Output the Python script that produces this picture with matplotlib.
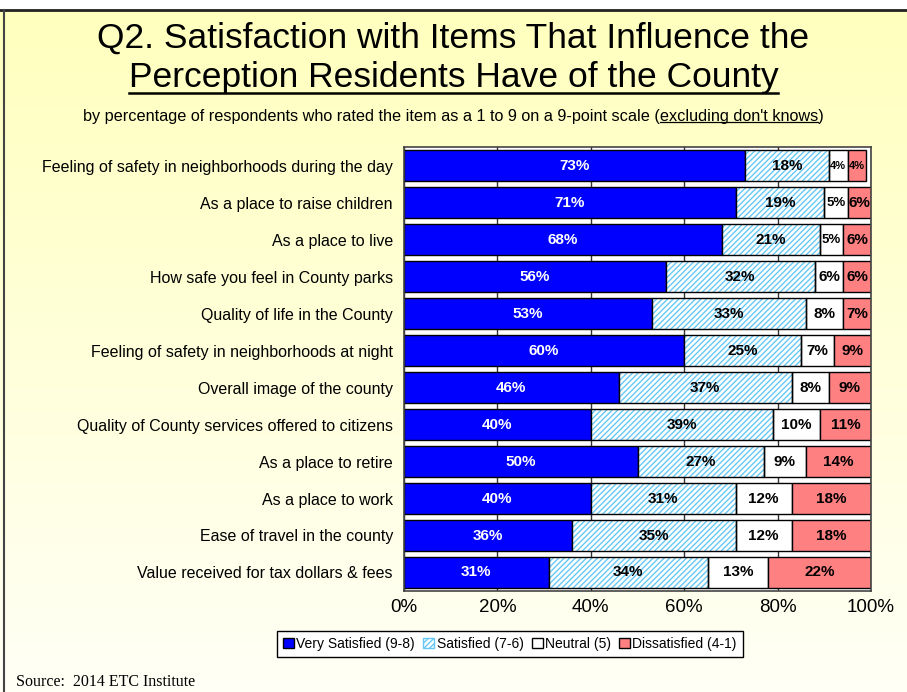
import numpy as np
import matplotlib
matplotlib.use("Agg")
import matplotlib.pyplot as plt
from matplotlib.patches import Patch
from matplotlib.lines import Line2D

# survey items, top to bottom
items = [
    "Feeling of safety in neighborhoods during the day",
    "As a place to raise children",
    "As a place to live",
    "How safe you feel in County parks",
    "Quality of life in the County",
    "Feeling of safety in neighborhoods at night",
    "Overall image of the county",
    "Quality of County services offered to citizens",
    "As a place to retire",
    "As a place to work",
    "Ease of travel in the county",
    "Value received for tax dollars & fees",
]
very_satisfied = [73, 71, 68, 56, 53, 60, 46, 40, 50, 40, 36, 31]
satisfied = [18, 19, 21, 32, 33, 25, 37, 39, 27, 31, 35, 34]
neutral = [4, 5, 5, 6, 8, 7, 8, 10, 9, 12, 12, 13]
dissatisfied = [4, 6, 6, 6, 7, 9, 9, 11, 14, 18, 18, 22]
series_names = ["Very Satisfied (9-8)", "Satisfied (7-6)", "Neutral (5)", "Dissatisfied (4-1)"]
x_ticks = [0, 20, 40, 60, 80, 100]

plt.rcParams["font.family"] = ["Liberation Sans", "DejaVu Sans"]

fig = plt.figure(figsize=(9.07, 6.92), dpi=100)

# yellow-to-white slide background
bg = fig.add_axes([0, 0, 1, 1], zorder=-10)
grad = np.linspace(0, 1, 256)[:, None]
top_c = np.array([255, 255, 190]) / 255
bot_c = np.array([255, 255, 246]) / 255
img = top_c[None, None, :] * (1 - grad[..., None]) + bot_c[None, None, :] * grad[..., None]
img = np.repeat(img, 2, axis=1)
bg.imshow(img, aspect="auto", extent=[0, 1, 0, 1 - 10 / 692], origin="upper")
bg.set_xlim(0, 1)
bg.set_ylim(0, 1)
bg.axis("off")
bg.plot([0, 1], [1 - 9.5 / 692, 1 - 9.5 / 692], color="#222222", lw=2)
bg.plot([3.5 / 907, 3.5 / 907], [0, 1 - 9.5 / 692], color="#444444", lw=1.5)

ax = fig.add_axes([404 / 907, 1 - 591 / 692, 467 / 907, 444 / 692])
ax.set_facecolor("white")
y = np.arange(len(items))
h = 0.86

vs = np.array(very_satisfied)
s = np.array(satisfied)
n = np.array(neutral)
d = np.array(dissatisfied)
left_s = vs
left_n = vs + s
left_d = vs + s + n

ax.barh(y, vs, height=h, color="#0000FF", edgecolor="black", lw=1, zorder=3)
# hatched satisfied segment: hatch first, black outline on top
ax.barh(y, s, left=left_s, height=h, color="white", edgecolor="#66C8F5", hatch="//////",
        lw=0, zorder=3)
ax.barh(y, s, left=left_s, height=h, fill=False, edgecolor="black", lw=1, zorder=4)
ax.barh(y, n, left=left_n, height=h, color="white", edgecolor="black", lw=1, zorder=3)
ax.barh(y, d, left=left_d, height=h, color="#FF8080", edgecolor="black", lw=1, zorder=3)

def put(vals, lefts, color):
    for yi, v, l in zip(y, vals, lefts):
        fs = 11 if v > 5 else (9.5 if v == 5 else 8)
        # rounding can push a row past 100%, keep the label inside the axes
        cx = (l + min(l + v, 100)) / 2
        ax.text(cx, yi, f"{v}%", ha="center", va="center", color=color,
                fontsize=fs, fontweight="bold", zorder=6)

put(vs, np.zeros_like(vs), "white")
put(s, left_s, "black")
put(n, left_n, "black")
put(d, left_d, "black")

ax.set_xlim(0, 100)
ax.set_ylim(len(items) - 0.5, -0.5)
ax.set_xticks(x_ticks)
ax.set_xticklabels([f"{t}%" for t in x_ticks], fontsize=13.5)
ax.set_yticks(y)
ax.set_yticklabels(items, fontsize=11.5)
ax.tick_params(axis="y", length=0, pad=8)
ax.tick_params(axis="x", length=0, pad=6)
ax.grid(axis="x", color="#333333", lw=1, zorder=0)
for sp in ax.spines.values():
    sp.set_color("#444444")
    sp.set_linewidth(1.2)
    sp.set_zorder(7)

# titles
t1 = fig.text(0.5, 1 - 38 / 692, "Q2. Satisfaction with Items That Influence the",
              ha="center", va="center", fontsize=25.5)
t2 = fig.text(0.5, 1 - 77 / 692, "Perception Residents Have of the County",
              ha="center", va="center", fontsize=25.5)
sub_pre = "by percentage of respondents who rated the item as a 1 to 9 on a 9-point scale ("
sub_und = "excluding don't knows"
sub_full = sub_pre + sub_und + ")"
sub_fs = 11.7
t3 = fig.text(0.5, 1 - 116 / 692, sub_full, ha="center", va="center", fontsize=sub_fs)

fig.canvas.draw()
r = fig.canvas.get_renderer()
W, H = fig.bbox.width, fig.bbox.height

bb2 = t2.get_window_extent(r)
uy = (bb2.y0 + 1) / H
fig.add_artist(Line2D([bb2.x0 / W, bb2.x1 / W], [uy, uy], color="black", lw=1.8))

bb3 = t3.get_window_extent(r)
tmp = fig.text(0, 0, sub_pre, fontsize=sub_fs)
w_pre = tmp.get_window_extent(r).width
tmp.set_text(sub_und)
w_und = tmp.get_window_extent(r).width
tmp.remove()
uy3 = (bb3.y0 + 2) / H
fig.add_artist(Line2D([(bb3.x0 + w_pre) / W, (bb3.x0 + w_pre + w_und) / W], [uy3, uy3],
                      color="black", lw=0.9))

handles = [
    Patch(facecolor="#0000FF", edgecolor="black", label=series_names[0]),
    Patch(facecolor="white", edgecolor="#66C8F5", hatch="//////", label=series_names[1]),
    Patch(facecolor="white", edgecolor="black", label=series_names[2]),
    Patch(facecolor="#FF8080", edgecolor="black", label=series_names[3]),
]
leg = fig.legend(handles=handles, loc="center", bbox_to_anchor=(510 / 907, 1 - 644 / 692),
                 ncol=4, fontsize=10,
                 handlelength=0.8, handleheight=0.8, handletextpad=0.15, columnspacing=0.6,
                 borderpad=0.45, fancybox=False, edgecolor="black", framealpha=1)
leg.get_frame().set_linewidth(1)

fig.text(16 / 907, 1.5 / 692, "Source:  2014 ETC Institute", ha="left", va="bottom",
         fontsize=11.5, family=["Liberation Serif", "DejaVu Serif"])

fig.savefig("out.png", dpi=100)
